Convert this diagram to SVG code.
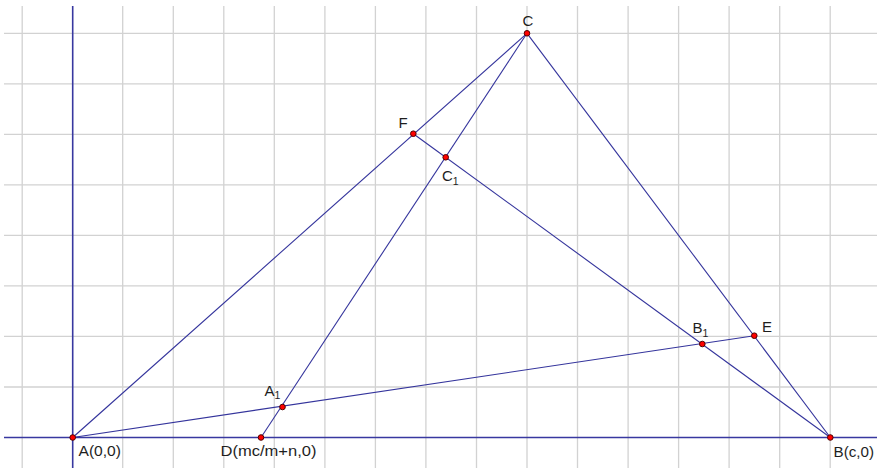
<svg xmlns="http://www.w3.org/2000/svg" width="877" height="468" viewBox="0 0 877 468">
<style>
.grid{stroke:#d2d2d2;stroke-width:1.3;fill:none}
.axis{stroke:#3838a0;stroke-width:1.6;fill:none}
.seg{stroke:#34349c;stroke-width:1.1;fill:none}
.pt{fill:#ff0000;stroke:#500000;stroke-width:1}
.lbl{font-family:"Liberation Sans",Arial,sans-serif;font-size:15px;fill:#1e1e1e}
.sub{font-size:10.5px}
</style>
<rect x="0" y="0" width="877" height="468" fill="#ffffff"/>
<g id="grid">
<path class="grid" d="M22.2 6V468M122.7 6V468M173.3 6V468M223.8 6V468M274.3 6V468M324.9 6V468M375.4 6V468M425.9 6V468M476.5 6V468M527 6V468M577.5 6V468M628.1 6V468M678.6 6V468M729.1 6V468M779.7 6V468M830.2 6V468"/>
<path class="grid" d="M4 33.3H877M4 83.8H877M4 134.3H877M4 184.8H877M4 235.4H877M4 285.9H877M4 336.4H877M4 387H877"/>
</g>
<g id="axes">
<path class="axis" d="M72.7 6V468M4 437.5H877"/>
</g>
<g id="connectors">
<line class="seg" x1="72.7" y1="437.5" x2="527" y2="33.3"/>
<line class="seg" x1="527" y1="33.3" x2="830.3" y2="437.5"/>
<line class="seg" x1="527" y1="33.3" x2="261" y2="437.5"/>
<line class="seg" x1="413.3" y1="133.7" x2="830.3" y2="437.5"/>
<line class="seg" x1="72.7" y1="437.5" x2="754.3" y2="335.7"/>
</g>
<g id="A"><circle class="pt" cx="72.7" cy="437.5" r="2.8"/><text class="lbl" x="78.5" y="456" textLength="42.5" lengthAdjust="spacingAndGlyphs">A(0,0)</text></g>
<g id="B"><circle class="pt" cx="830.3" cy="437.5" r="2.8"/><text class="lbl" x="833.5" y="457" textLength="40.5" lengthAdjust="spacingAndGlyphs">B(c,0)</text></g>
<g id="C"><circle class="pt" cx="527" cy="33.3" r="2.8"/><text class="lbl" x="522.5" y="26">C</text></g>
<g id="D"><circle class="pt" cx="261" cy="437.5" r="2.8"/><text class="lbl" x="220.5" y="456" textLength="96" lengthAdjust="spacingAndGlyphs">D(mc/m+n,0)</text></g>
<g id="F"><circle class="pt" cx="413.3" cy="133.7" r="2.8"/><text class="lbl" x="398.5" y="127.5">F</text></g>
<g id="C1"><circle class="pt" cx="445.7" cy="157.3" r="2.8"/><text class="lbl" x="442" y="180.5">C<tspan class="sub" dy="4">1</tspan></text></g>
<g id="A1"><circle class="pt" cx="282.5" cy="407" r="2.8"/><text class="lbl" x="264.5" y="396">A<tspan class="sub" dy="3">1</tspan></text></g>
<g id="B1"><circle class="pt" cx="702.3" cy="344" r="2.8"/><text class="lbl" x="692.5" y="332.5">B<tspan class="sub" dy="4">1</tspan></text></g>
<g id="E"><circle class="pt" cx="754.3" cy="335.7" r="2.8"/><text class="lbl" x="762" y="331.5">E</text></g>
</svg>
